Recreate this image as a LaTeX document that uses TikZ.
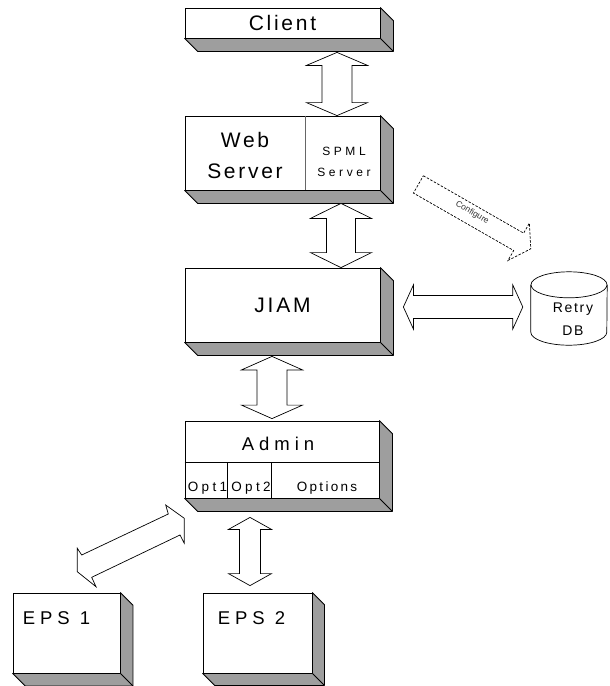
\documentclass[tikz,border=0pt]{standalone}
\usepackage{fontspec}
\setmainfont{Liberation Sans}
\usetikzlibrary{calc}
\def\boxfont#1#2#3{\fontsize{#1}{#3}\selectfont\addfontfeatures{LetterSpace=#2}}
% gray bottom and right faces of a front face node
\def\extrude(#1)(#2){\draw[side] (#1.south west) -- ++(#2,#2) -- ($(#1.south east)+(#2,#2)$) -- ($(#1.north east)+(#2,#2)$) -- (#1.north east) -- (#1.south east) -- cycle;
	\draw[edge] (#1.south east) -- ++(#2,#2);}
% hollow double arrow: ends, shaft half width, head half width, head length
\def\dblarrow(#1)(#2)#3#4#5{\coordinate (arS) at (#1); \coordinate (arE) at (#2);
	\coordinate (arA) at ($(arS)!#5!(arE)$); \coordinate (arB) at ($(arE)!#5!(arS)$);
	\draw[blockarrow] (arS) -- ($(arA)!#4!-90:(arE)$) -- ($(arA)!#3!-90:(arE)$) -- ($(arB)!#3!90:(arS)$) -- ($(arB)!#4!90:(arS)$) -- (arE) -- ($(arB)!#4!-90:(arS)$) -- ($(arB)!#3!-90:(arS)$) -- ($(arA)!#3!90:(arE)$) -- ($(arA)!#4!90:(arE)$) -- cycle;}
% hollow single arrow: tail, tip, shaft half width, head half width, head length
\def\onearrow[#1](#2)(#3)#4#5#6{\coordinate (arS) at (#2); \coordinate (arE) at (#3);
	\coordinate (arB) at ($(arE)!#6!(arS)$);
	\draw[blockarrow,#1] ($(arS)!#4!90:(arE)$) -- ($(arB)!#4!-90:(arS)$) -- ($(arB)!#5!-90:(arS)$) -- (arE) -- ($(arB)!#5!90:(arS)$) -- ($(arB)!#4!90:(arS)$) -- ($(arS)!#4!-90:(arE)$) -- cycle;}

\begin{document}
\begin{tikzpicture}[x=1pt, y=-1pt,
	front/.style={draw, fill=white, line width=0.8pt, inner sep=0pt},
	side/.style={draw, fill=black!38, line width=0.8pt, line join=round},
	edge/.style={line width=0.8pt},
	blockarrow/.style={draw, fill=white, line width=0.7pt},
	cyl/.style={draw, fill=white, line width=0.7pt},
	txt/.style={inner sep=0pt, align=center}]
	%%%%% START %%%%%
	\useasboundingbox (0,0) rectangle (610,686);
	
	% client
	\node[front, minimum width=195pt, minimum height=30pt, font=\boxfont{21}{13}{21}] (client) at (282.5,23) {Client};
	\extrude(client)(13)
	
	% web server, spml part on the right
	\node[front, minimum width=195pt, minimum height=74pt] (web) at (282.5,153) {};
	\extrude(web)(13)
	\draw[edge, black!60] ($(web.north west)+(121,0)$) -- ($(web.south west)+(121,0)$);
	\node[txt, font=\boxfont{21}{13}{31}] (webtxt) at (245,155) {Web\\Server};
	\node[txt, font=\boxfont{12}{30}{21.5}] (spml) at (344,162) {SPML\\Server};
	
	% jiam
	\node[front, minimum width=195pt, minimum height=74pt, font=\boxfont{21}{13}{21}] (jiam) at (282.5,305) {JIAM};
	\extrude(jiam)(13)
	
	% admin with option cells
	\node[front, minimum width=194pt, minimum height=77pt] (admin) at (282,459.5) {};
	\extrude(admin)(13)
	\draw[edge] ($(admin.north west)+(0,42)$) -- ($(admin.north east)+(0,42)$);
	\draw[edge] ($(admin.south west)+(43,0)$) -- ++(0,-35);
	\draw[edge] ($(admin.south west)+(87,0)$) -- ++(0,-35);
	\node[txt, font=\boxfont{18.5}{27}{18.5}] (admintxt) at (278,443.5) {Admin};
	\node[txt, font=\boxfont{13.5}{25}{13.5}] (opt1) at (207.5,488) {Opt1};
	\node[txt, font=\boxfont{13.5}{25}{13.5}] (opt2) at (251,488) {Opt2};
	\node[txt, font=\boxfont{13.5}{17}{13.5}] (opts) at (327,488) {Options};
	
	% eps boxes
	\node[front, minimum width=107pt, minimum height=80pt] (eps1) at (66.5,633) {};
	\extrude(eps1)(12.5)
	\node[inner sep=0pt, anchor=base west, font=\boxfont{18.5}{27}{18.5}] (eps1txt) at ($(eps1.north west)+(10,32)$) {EPS 1};
	\node[front, minimum width=109pt, minimum height=80pt] (eps2) at (257.5,633) {};
	\extrude(eps2)(12)
	\node[inner sep=0pt, anchor=base west, font=\boxfont{18.5}{27}{18.5}] (eps2txt) at ($(eps2.north west)+(15,32)$) {EPS 2};
	
	% retry db
	\node[minimum width=76pt, minimum height=73pt, inner sep=0pt] (db) at (569,308.5) {};
	\draw[cyl] ($(db.north west)+(0,13)$) -- ($(db.south west)+(0,-13)$) arc[start angle=180, end angle=360, x radius=38pt, y radius=13pt] -- ($(db.north east)+(0,13)$);
	\draw[cyl] ($(db.north)+(0,13)$) ellipse[x radius=38pt, y radius=13pt];
	\node[txt, font=\boxfont{14}{12}{14}] (retry) at (573,309.5) {Retry};
	\node[txt, font=\boxfont{14}{12}{14}] (dbtxt) at (573,330.5) {DB};
	
	% arrows
	\dblarrow([xshift=54.5pt,yshift=-14pt]client.south)([xshift=54.5pt]web.north){15pt}{30.5pt}{13pt}
	\dblarrow([xshift=58.5pt,yshift=-13pt]web.south)([xshift=58.5pt]jiam.north){14.5pt}{30.5pt}{15pt}
	\dblarrow([xshift=-10.5pt,yshift=-14pt]jiam.south)([xshift=-10pt,yshift=2pt]admin.north){15pt}{30.5pt}{13.5pt}
	\dblarrow([xshift=-32pt,yshift=-19pt]admin.south)([xshift=-7.5pt,yshift=7pt]eps2.north){10.5pt}{21.5pt}{12pt}
	\dblarrow([xshift=23pt,yshift=-2pt]jiam.east)([xshift=-8pt,yshift=1.5pt]db.west){11.5pt}{22pt}{10pt}
	\onearrow[dash pattern=on 2.5pt off 1.5pt]([xshift=38pt,yshift=6pt]web.south east)([yshift=23pt]db.north west){10pt}{21.5pt}{14pt}
	\node[txt, rotate=-30, font=\fontsize{8.5}{8.5}\selectfont, text=black!80] (cfg) at ($(arS)!0.47!(arE)+(1,-2)$) {Configure};
	
	% slanted arrow to eps 1
	\draw[blockarrow] (165.7,505) -- (184.3,518.3) -- (184.3,543.3) -- (180,535) -- (91.7,577.3) -- (96,586.7) -- (77.3,571.7) -- (77.3,548.3) -- (81.7,555) -- (168.3,514) -- cycle;
	%%%%% END %%%%%
\end{tikzpicture}
\end{document}
